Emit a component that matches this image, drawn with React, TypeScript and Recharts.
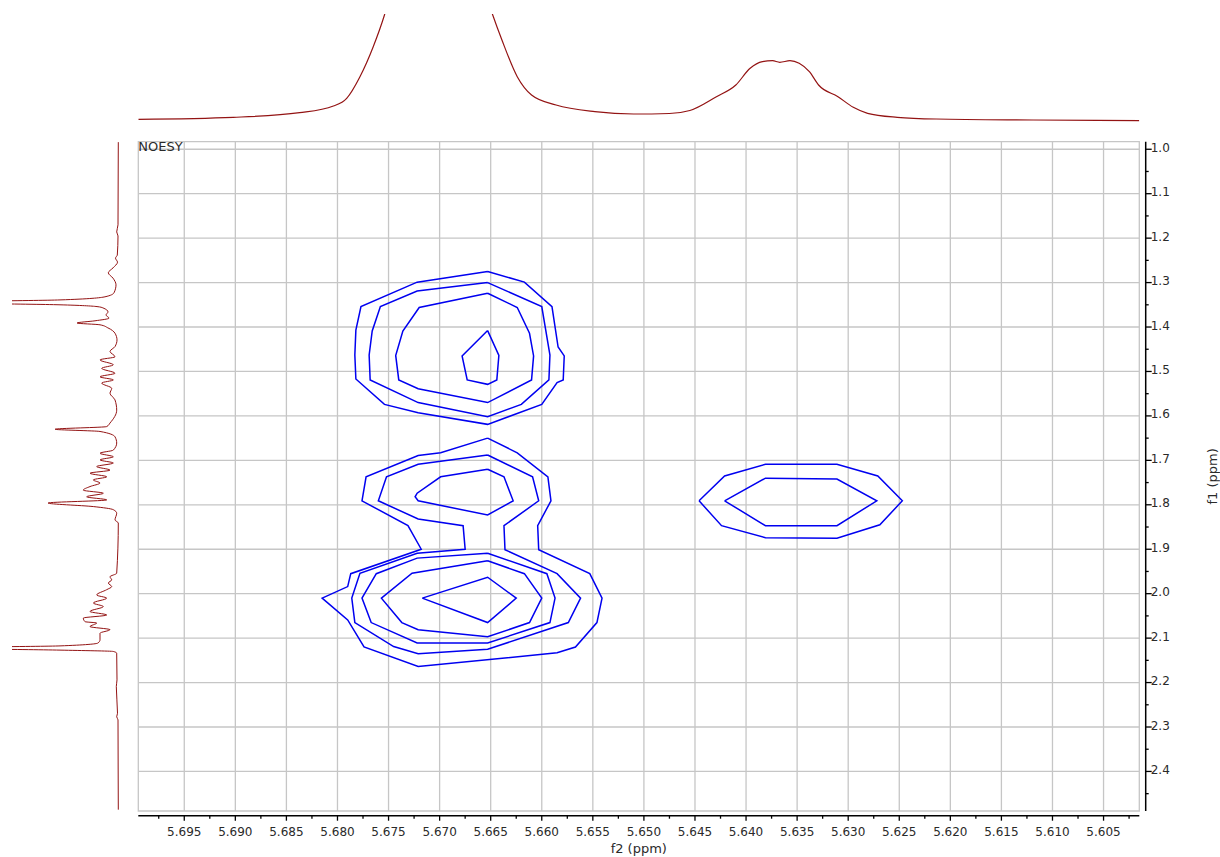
import React from 'react';
import { LineChart, Line, XAxis, YAxis, ReferenceLine, ReferenceArea } from 'recharts';

type Pt = [number, number];

const F2_DOMAIN: [number, number] = [5.6015, 5.6995];
const F1_DOMAIN: [number, number] = [0.983, 2.489];

// tick labels
const f2Labels = [
  5.695, 5.69, 5.685, 5.68, 5.675, 5.67, 5.665, 5.66, 5.655, 5.65, 5.645, 5.64, 5.635, 5.63,
  5.625, 5.62, 5.615, 5.61, 5.605,
];
const f2Minor = [
  5.6975, 5.6925, 5.6875, 5.6825, 5.6775, 5.6725, 5.6675, 5.6625, 5.6575, 5.6525, 5.6475,
  5.6425, 5.6375, 5.6325, 5.6275, 5.6225, 5.6175, 5.6125, 5.6075, 5.6025,
];
const f1Labels = [1.0, 1.1, 1.2, 1.3, 1.4, 1.5, 1.6, 1.7, 1.8, 1.9, 2.0, 2.1, 2.2, 2.3, 2.4];
const f1Minor = [1.05, 1.15, 1.25, 1.35, 1.45, 1.55, 1.65, 1.75, 1.85, 1.95, 2.05, 2.15, 2.25, 2.35, 2.45];

// 1D projection on top: [f2 ppm, intensity]
const topProjection: Pt[] = [
  [5.6995, 2.7], [5.6902, 4.7], [5.6837, 9.3], [5.6804, 16], [5.6791, 23.7], [5.6778, 45.3],
  [5.6765, 75.3], [5.6754, 107], [5.6745, 140], [5.6701, 260], [5.6657, 135], [5.6648, 107],
  [5.6639, 82], [5.6624, 45.3], [5.661, 27], [5.6586, 17], [5.6548, 10.3], [5.651, 8],
  [5.6475, 8.5], [5.6455, 11.5], [5.6429, 25.3], [5.641, 37], [5.6396, 53.7], [5.6384, 60.3],
  [5.6374, 61.3], [5.6367, 59.7], [5.6357, 61.3], [5.6348, 58.7], [5.6338, 50.3], [5.6329, 37],
  [5.631, 25.3], [5.6295, 14.7], [5.6281, 8.7], [5.6252, 4.7], [5.6214, 3], [5.6119, 2],
  [5.6015, 1.3],
];

// 1D projection on the left: [f1 ppm, intensity]
const leftProjection: Pt[] = [
  [0.984, 1.7], [1.17, 2], [1.186, 3.3], [1.195, 2], [1.238, 2.7], [1.245, 4.5], [1.254, 2.5],
  [1.267, 7], [1.278, 11.7], [1.29, 7], [1.305, 4], [1.323, 6], [1.332, 15], [1.339, 60],
  [1.3445, 200], [1.35, 60], [1.354, 23], [1.357, 17], [1.366, 12], [1.373, 14], [1.38, 11],
  [1.386, 25], [1.391, 43], [1.395, 20], [1.402, 12], [1.414, 5], [1.429, 3], [1.444, 5],
  [1.455, 10], [1.467, 5], [1.474, 20], [1.485, 6.7], [1.493, 18.3], [1.504, 5], [1.512, 20],
  [1.519, 6.7], [1.526, 18.3], [1.538, 8.3], [1.549, 10], [1.564, 5], [1.587, 3.3], [1.616, 10],
  [1.624, 13.3], [1.63, 65], [1.635, 20], [1.647, 5], [1.661, 3.3], [1.677, 6.7], [1.684, 20],
  [1.692, 6.7], [1.699, 20], [1.706, 6.7], [1.714, 23.3], [1.722, 10], [1.729, 30], [1.737, 13.3],
  [1.744, 26.7], [1.751, 20], [1.759, 30], [1.767, 36.7], [1.774, 16.7], [1.782, 33.3],
  [1.789, 13.3], [1.796, 72], [1.804, 26.7], [1.811, 6.7], [1.819, 3.3], [1.834, 5], [1.841, 1.7],
  [1.954, 3.3], [1.962, 10], [1.969, 8.3], [1.976, 11.7], [1.984, 8.3], [1.991, 13.3],
  [2.003, 23.3], [2.01, 13.3], [2.021, 26.7], [2.029, 16.7], [2.04, 30], [2.048, 13.3],
  [2.055, 36.7], [2.063, 35], [2.066, 23.3], [2.074, 30], [2.081, 10], [2.089, 20], [2.104, 20],
  [2.111, 22], [2.1175, 60], [2.122, 200], [2.127, 60], [2.13, 6.7], [2.134, 3.3], [2.194, 3],
  [2.209, 3.7], [2.269, 2.5], [2.277, 3.3], [2.284, 2], [2.486, 1.7],
];

// contour levels: [f2 ppm, f1 ppm]
const upperL1: Pt[] = [
  [5.6653, 1.275], [5.6617, 1.299], [5.659, 1.354], [5.6584, 1.445], [5.6578, 1.465],
  [5.6579, 1.519], [5.6585, 1.525], [5.66, 1.574], [5.6653, 1.619], [5.6721, 1.593],
  [5.6754, 1.574], [5.6782, 1.517], [5.6783, 1.463], [5.6782, 1.407], [5.6777, 1.354],
  [5.6722, 1.299],
];
const upperL2: Pt[] = [
  [5.6653, 1.3], [5.66, 1.354], [5.6592, 1.463], [5.6593, 1.519], [5.662, 1.574],
  [5.6653, 1.602], [5.6721, 1.57], [5.6768, 1.519], [5.6769, 1.463], [5.6766, 1.409],
  [5.6758, 1.354], [5.6722, 1.319],
];
const upperL3: Pt[] = [
  [5.6653, 1.324], [5.6624, 1.356], [5.6612, 1.414], [5.6608, 1.465], [5.661, 1.519],
  [5.6653, 1.57], [5.6721, 1.539], [5.674, 1.519], [5.6743, 1.464], [5.6736, 1.409],
  [5.672, 1.356],
];
const upperL4: Pt[] = [
  [5.6653, 1.408], [5.6642, 1.464], [5.6644, 1.519], [5.6653, 1.529], [5.6673, 1.519],
  [5.6678, 1.465],
];
const lowerL1: Pt[] = [
  [5.6653, 1.65], [5.6624, 1.683], [5.6594, 1.737], [5.6591, 1.791], [5.6604, 1.847],
  [5.6603, 1.901], [5.6553, 1.955], [5.6541, 2.01], [5.6546, 2.065], [5.6567, 2.12],
  [5.6585, 2.133], [5.6721, 2.164], [5.6774, 2.12], [5.679, 2.059], [5.6815, 2.01],
  [5.679, 1.984], [5.6787, 1.955], [5.6718, 1.9], [5.6731, 1.847], [5.6776, 1.791],
  [5.6772, 1.737], [5.6721, 1.689], [5.6699, 1.683],
];
const lowerL2: Pt[] = [
  [5.6653, 1.688], [5.6609, 1.737], [5.6603, 1.791], [5.6637, 1.847], [5.6636, 1.901],
  [5.6585, 1.955], [5.6562, 2.01], [5.6574, 2.065], [5.6653, 2.125], [5.6721, 2.135],
  [5.6745, 2.119], [5.6783, 2.065], [5.6786, 2.01], [5.6778, 1.954], [5.6722, 1.909],
  [5.6675, 1.9], [5.6677, 1.847], [5.6721, 1.832], [5.676, 1.791], [5.6752, 1.737],
  [5.6721, 1.709],
];
const lowerL3a: Pt[] = [
  [5.6653, 1.72], [5.6637, 1.737], [5.6628, 1.791], [5.6653, 1.823], [5.6721, 1.791],
  [5.6724, 1.782], [5.6722, 1.774], [5.6699, 1.737],
];
const lowerL3b: Pt[] = [
  [5.6653, 1.909], [5.6595, 1.955], [5.6587, 2.01], [5.6592, 2.065], [5.6653, 2.111],
  [5.6722, 2.111], [5.6767, 2.065], [5.6776, 2.01], [5.6762, 1.955], [5.6722, 1.92],
];
const lowerL4: Pt[] = [
  [5.6653, 1.926], [5.6617, 1.955], [5.66, 2.01], [5.6612, 2.065], [5.6653, 2.097],
  [5.6721, 2.081], [5.6737, 2.065], [5.6757, 2.01], [5.6727, 1.954],
];
const lowerL5: Pt[] = [[5.6717, 2.01], [5.6653, 1.963], [5.6625, 2.01], [5.6653, 2.065]];
const rightL1: Pt[] = [
  [5.6446, 1.791], [5.6421, 1.735], [5.6381, 1.709], [5.6311, 1.709], [5.6271, 1.735],
  [5.6247, 1.791], [5.6269, 1.845], [5.6311, 1.875], [5.6381, 1.874], [5.6424, 1.847],
];
const rightL2: Pt[] = [
  [5.6421, 1.791], [5.6381, 1.74], [5.6311, 1.742], [5.6272, 1.791], [5.6311, 1.847],
  [5.6381, 1.847],
];

const contours = [
  upperL1, upperL2, upperL3, upperL4,
  lowerL1, lowerL2, lowerL3a, lowerL3b, lowerL4, lowerL5,
  rightL1, rightL2,
];

const SPEC = '#931313';
const BLUE = '#0000f0';
const GRID = '#c6c6c6';
const TEXT = '#2a2a2a';

// axis lines sit a few pixels off the plot frame, as in the original
const X_GAP = 4.7;
const Y_GAP = 6.4;

const toContour = (pts: Pt[]) => [...pts, pts[0]].map(([f2, f1]) => ({ f2, f1 }));
const isOne = (list: number[], v: number) => list.some((t) => Math.abs(t - v) < 1e-7);

function F2Tick(props: any) {
  const { x, y, payload } = props;
  const major = isOne(f2Labels, payload.value);
  const y0 = y + X_GAP;
  return (
    <g>
      <line x1={x} x2={x} y1={y0} y2={y0 + (major ? 5 : 3)} stroke="#000" strokeWidth={1.3} />
      {major && (
        <text x={x} y={y0 + 20.5} textAnchor="middle" fontSize={12} fill={TEXT}>
          {payload.value.toFixed(3)}
        </text>
      )}
    </g>
  );
}

function F1Tick(props: any) {
  const { x, y, payload } = props;
  const major = isOne(f1Labels, payload.value);
  const x0 = x + Y_GAP;
  return (
    <g>
      <line x1={x0} x2={x0 + (major ? 6 : 3)} y1={y} y2={y} stroke="#000" strokeWidth={1.3} />
      {major && (
        <text x={x0 + 5} y={y + 2.5} textAnchor="start" fontSize={12} fill={TEXT}>
          {payload.value.toFixed(1)}
        </text>
      )}
    </g>
  );
}

export default function App() {
  const topData = topProjection.map(([f2, v]) => ({ f2, v }));
  const leftData = leftProjection.map(([f1, v]) => ({ f1, v }));

  return (
    <div
      style={{
        position: 'absolute',
        left: 0,
        top: 0,
        width: 1220,
        height: 857,
        background: '#fff',
        fontFamily: "'DejaVu Sans', Verdana, sans-serif",
      }}
    >
      <div style={{ position: 'absolute', left: 0, top: 0 }}>
        <LineChart width={1220} height={857} margin={{ top: 141.7, right: 20.7, bottom: 6, left: 138.3 }}>
          <XAxis
            type="number"
            dataKey="f2"
            domain={F2_DOMAIN}
            reversed
            allowDataOverflow
            ticks={[...f2Labels, ...f2Minor]}
            interval={0}
            height={40}
            tickSize={0}
            tickMargin={0}
            tickLine={false}
            tick={F2Tick}
            axisLine={{ stroke: '#000', strokeWidth: 1.5, transform: `translate(0 ${X_GAP})` }}
            label={{ value: 'f2 (ppm)', position: 'insideBottom', offset: -2, fontSize: 13, fill: TEXT }}
          />
          <YAxis
            type="number"
            orientation="right"
            domain={F1_DOMAIN}
            reversed
            allowDataOverflow
            ticks={[...f1Labels, ...f1Minor]}
            interval={0}
            width={60}
            tickSize={0}
            tickMargin={0}
            tickLine={false}
            tick={F1Tick}
            axisLine={{ stroke: '#000', strokeWidth: 1.5, transform: `translate(${Y_GAP} 0)` }}
            label={{ value: 'f1 (ppm)', angle: -90, position: 'center', dx: 42.7, fontSize: 13, fill: TEXT }}
          />
          {f2Labels.map((v) => (
            <ReferenceLine key={`gx${v}`} x={v} stroke={GRID} strokeWidth={1.3} />
          ))}
          {f1Labels.map((v) => (
            <ReferenceLine key={`gy${v}`} y={v} stroke={GRID} strokeWidth={1.3} />
          ))}
          <ReferenceArea
            x1={F2_DOMAIN[0]}
            x2={F2_DOMAIN[1]}
            y1={F1_DOMAIN[0]}
            y2={F1_DOMAIN[1]}
            fill="none"
            fillOpacity={0}
            stroke={GRID}
            strokeWidth={1.3}
            label={{ value: 'NOESY', position: 'insideTopLeft', offset: 0, fontSize: 13, fill: TEXT }}
          />
          {contours.map((c, i) => (
            <Line
              key={`c${i}`}
              data={toContour(c)}
              dataKey="f1"
              type="linear"
              stroke={BLUE}
              strokeWidth={1.5}
              dot={false}
              activeDot={false}
              isAnimationActive={false}
            />
          ))}
        </LineChart>
      </div>

      <div style={{ position: 'absolute', left: 0, top: 0 }}>
        <LineChart width={1220} height={125} data={topData} margin={{ top: 14, right: 80.7, bottom: 3, left: 138.3 }}>
          <XAxis type="number" dataKey="f2" domain={F2_DOMAIN} reversed hide allowDataOverflow />
          <YAxis type="number" domain={[0, 108]} hide allowDataOverflow />
          <Line
            dataKey="v"
            type="monotone"
            stroke={SPEC}
            strokeWidth={1.2}
            dot={false}
            activeDot={false}
            isAnimationActive={false}
          />
        </LineChart>
      </div>

      <div style={{ position: 'absolute', left: 0, top: 0 }}>
        <LineChart
          layout="vertical"
          width={125}
          height={857}
          data={leftData}
          margin={{ top: 141.7, right: 5, bottom: 46, left: 12 }}
        >
          <XAxis type="number" domain={[0, 108]} reversed hide allowDataOverflow />
          {/* vertical layout already runs the category axis top-to-bottom */}
          <YAxis type="number" dataKey="f1" domain={F1_DOMAIN} hide allowDataOverflow />
          <Line
            dataKey="v"
            type="monotone"
            stroke={SPEC}
            strokeWidth={1}
            dot={false}
            activeDot={false}
            isAnimationActive={false}
          />
        </LineChart>
      </div>
    </div>
  );
}
